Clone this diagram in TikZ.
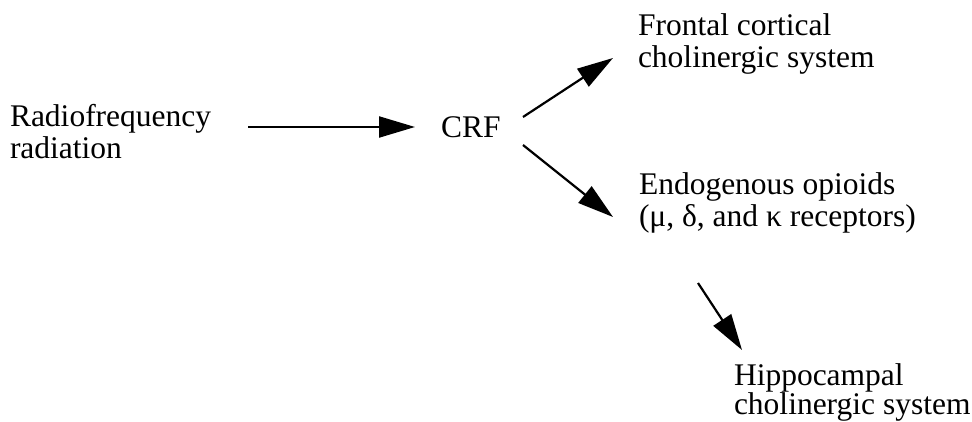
\documentclass[tikz,border=0pt]{standalone}
\usepackage{fontspec}
\setmainfont{Liberation Serif}
\usetikzlibrary{arrows.meta}
\tikzset{
  lbl/.style={anchor=base west, inner sep=0pt, outer sep=0pt},
  arr/.style={line width=2.2pt, -{Triangle[length=36pt,width=21pt]}}
}
\newcommand{\twolines}[3]{{\fontsize{31.5}{#3}\selectfont\begin{tabular}[t]{@{}l@{}}#1\\#2\end{tabular}}}
\begin{document}
\begin{tikzpicture}[x=1pt,y=-1pt]
\useasboundingbox (0,0) rectangle (972,422);
\node[lbl] (rf) at (10,127) {\twolines{Radiofrequency}{radiation}{31pt}};
\node[lbl] (crf) at (441,138) {\fontsize{31.5}{32}\selectfont CRF};
\node[lbl] (fc) at (638,36) {\twolines{Frontal cortical}{cholinergic system}{32pt}};
\node[lbl] (eo) at (639,195) {\twolines{Endogenous opioids}{(μ, δ, and κ receptors)}{32pt}};
\node[lbl] (hc) at (734,385) {\twolines{Hippocampal}{cholinergic system}{25pt}};
\coordinate (rf-out) at (248,127);
\coordinate (crf-in) at (415,127);
\coordinate (crf-up) at (523,117);
\coordinate (fc-in) at (613,58);
\coordinate (crf-dn) at (523,145);
\coordinate (eo-in) at (613,217);
\coordinate (eo-out) at (698,283);
\coordinate (hc-in) at (742,350);
\draw[arr] (rf-out) -- (crf-in);
\draw[arr] (crf-up) -- (fc-in);
\draw[arr] (crf-dn) -- (eo-in);
\draw[arr] (eo-out) -- (hc-in);
\end{tikzpicture}
\end{document}
